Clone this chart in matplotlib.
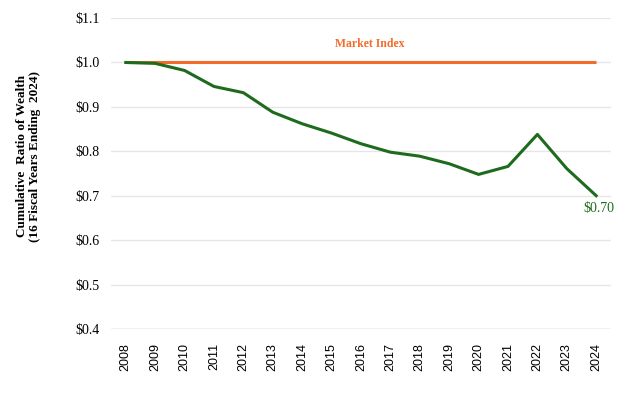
import numpy as np
import matplotlib
matplotlib.use("Agg")
import matplotlib.pyplot as plt

years = [str(y) for y in range(2008, 2025)]
wealth_ratio = [1.000, 0.998, 0.982, 0.946, 0.932, 0.888, 0.862, 0.841, 0.817,
                0.798, 0.789, 0.772, 0.748, 0.766, 0.838, 0.761, 0.700]
market_index = [1.0] * len(years)
y_ticks = [0.4, 0.5, 0.6, 0.7, 0.8, 0.9, 1.0, 1.1]

green = "#1E6B1E"
orange = "#F26B2A"
serif = ["Liberation Serif", "DejaVu Serif"]

fig = plt.figure(figsize=(6.24, 3.93), dpi=100)
ax = fig.add_axes([0.178, 0.163, 0.801, 0.791])

x = np.arange(len(years))
ax.plot(x, market_index, color=orange, lw=2.2, solid_capstyle="butt", zorder=3)
ax.plot(x, wealth_ratio, color=green, lw=2.2, zorder=4)

ax.set_xlim(-0.5, len(years) - 0.5)
ax.set_ylim(0.4, 1.1)
ax.set_yticks(y_ticks)
ax.set_yticklabels([f"${v:.1f}" for v in y_ticks], family=serif, fontsize=10)
ax.set_xticks(x)
ax.set_xticklabels(years, rotation=90, family=["Liberation Sans", "DejaVu Sans"], fontsize=9)
ax.tick_params(length=0, pad=8)
ax.tick_params(axis="x", pad=10)

ax.grid(axis="y", color="#E6E6E6", lw=1.0)
ax.set_axisbelow(True)
for s in ax.spines.values():
    s.set_visible(False)
ax.axhline(0.4, color="#D4D4D4", lw=1.0, zorder=1)

ax.text(8.3, 1.042, "Market Index", color=orange, fontweight="bold",
        family=serif, fontsize=8.5, ha="center", va="center")
ax.text(x[-1] + 0.1, wealth_ratio[-1] - 0.028, f"${wealth_ratio[-1]:.2f}",
        color=green, family=serif, fontsize=10, ha="center", va="center")

fig.text(0.046, 0.603, "Cumulative  Ratio of Wealth\n(16 Fiscal Years Ending  2024)",
         rotation=90, ha="center", va="center", family=serif,
         fontweight="bold", fontsize=9.5, linespacing=1.1)

fig.savefig("out.png", dpi=100)
